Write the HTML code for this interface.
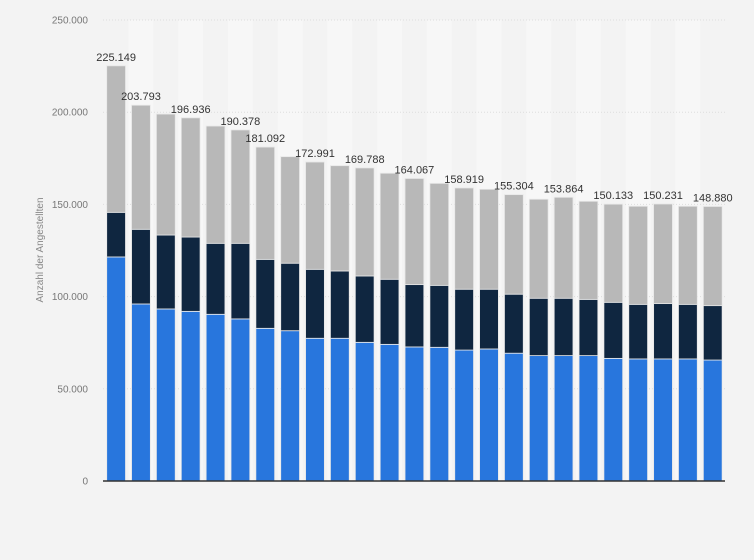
<!DOCTYPE html>
<html><head><meta charset="utf-8"><style>
html,body{margin:0;padding:0;background:#f3f3f3;}
svg{display:block;font-family:"Liberation Sans",Arial,sans-serif;}
</style></head><body>
<svg id="chart" width="754" height="560" viewBox="0 0 754 560" xmlns="http://www.w3.org/2000/svg">
<rect x="0" y="0" width="754" height="560" fill="#f3f3f3"/>
<g id="bands"></g><g id="grid"></g><g id="bars"></g><g id="labels"></g><g id="yticks"></g>
<line x1="103" y1="481" x2="725" y2="481" stroke="#333" stroke-width="1.5"/>
<text x="43" y="250" transform="rotate(-90 43 250)" text-anchor="middle" font-size="10" fill="#888">Anzahl der Angestellten</text>
</svg>
<script>
const totals=[225149,203793,199000,196936,192500,190378,181092,175900,172991,171000,169788,166900,164067,161400,158919,158200,155304,152800,153864,151700,150133,149000,150231,149000,148880];
const darkTops=[145700,136500,133400,132300,128900,128900,120200,118100,114800,113900,111200,109400,106500,106100,104000,104000,101300,99100,99100,98500,96900,95800,96200,95800,95100];
const blueVals=[121500,96000,93300,92000,90400,87900,82800,81500,77400,77400,75200,74100,72700,72500,71000,71600,69300,68000,68000,68000,66500,66200,66200,66200,65600];
const showLabel=[1,1,0,1,0,1,1,0,1,0,1,0,1,0,1,0,1,0,1,0,1,0,1,0,1];
const yTicks=[0,50000,100000,150000,200000,250000];
const NS="http://www.w3.org/2000/svg";
const y0=481,y1=20,vmax=250000,xStart=106.7,pitch=24.86,bw=18.8;
const yS=v=>y0-(v/vmax)*(y0-y1);
const xS=i=>xStart+i*pitch;
const fmt=v=>v===0?"0":Math.floor(v/1000)+"."+String(v%1000).padStart(3,"0");
function mk(tag,attrs,parent){const e=document.createElementNS(NS,tag);for(const k in attrs)e.setAttribute(k,attrs[k]);document.getElementById(parent).appendChild(e);return e;}
totals.forEach((t,i)=>{
  if(i%2===1){const b=mk("rect",{x:xS(i)+bw/2-pitch/2,y:y1,width:pitch,height:y0-y1,fill:"#f7f7f7"},"bands");
    
    }
});
yTicks.forEach(v=>{
  if(v>0){const g=mk("line",{x1:103,x2:725,y1:yS(v),y2:yS(v),stroke:"#ddd","stroke-dasharray":"1,2","stroke-width":1},"grid");
    
    }
  const t=mk("text",{x:88,y:yS(v)+3.5,"text-anchor":"end","font-size":"10",fill:"#777"},"yticks");
  t.textContent=fmt(v);
  
  
});
totals.forEach((t,i)=>{
  const x=xS(i);
  const segs=[[0,blueVals[i],"#2876dd","bar-segment-blue"],[blueVals[i],darkTops[i],"#0f2640","bar-segment-dark"],[darkTops[i],t,"#b8b8b8","bar-segment-gray"]];
  segs.forEach(s=>{
    const r=mk("rect",{x:x,y:yS(s[1]),width:bw,height:yS(s[0])-yS(s[1]),fill:s[2],stroke:"#e8e8e8","stroke-width":0.8},"bars");
    
    
  });
  if(showLabel[i]){
    const l=mk("text",{x:x+bw/2,y:yS(t)-5,"text-anchor":"middle","font-size":"11",fill:"#333"},"labels");
    l.textContent=fmt(t);
    
    
  }
});
</script>
</body></html>
